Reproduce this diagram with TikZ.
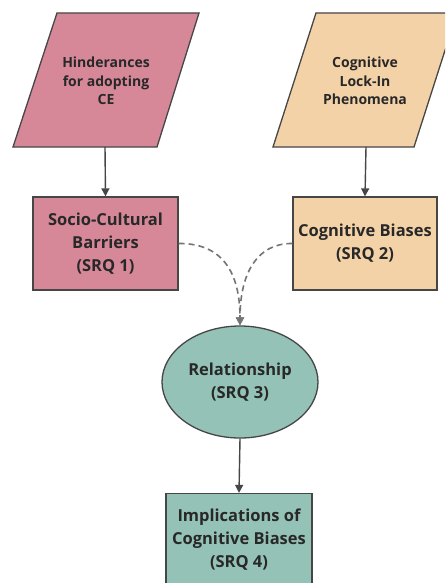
\documentclass[tikz,border=0pt]{standalone}
\usepackage{fontspec}
\setmainfont{Open Sans}
\usetikzlibrary{arrows.meta,shapes.geometric}
\definecolor{rosefill}{RGB}{214,136,152}
\definecolor{peachfill}{RGB}{244,210,168}
\definecolor{tealfill}{RGB}{148,194,182}
\definecolor{edge}{RGB}{70,70,70}
\definecolor{ink}{RGB}{40,40,40}
\tikzset{
  shapeline/.style={draw=edge, line width=1.3pt},
  bigtext/.style={text=ink, font=\bfseries\fontsize{16.5}{23}\selectfont, align=center},
  smalltext/.style={text=ink, font=\bfseries\fontsize{14}{18.5}\selectfont, align=center},
  boxnode/.style={shapeline, rectangle, minimum width=145pt, minimum height=93pt, inner sep=0pt, bigtext},
  link/.style={draw=edge, line width=1.4pt, -{Triangle[width=8pt,length=8pt]}},
  dashlink/.style={draw=edge!75, line width=1.6pt, dash pattern=on 6pt off 4pt, -{Triangle[width=8pt,length=8pt]}}
}
\begin{document}
\begin{tikzpicture}[x=1pt,y=-1pt]
  \clip (0,0) rectangle (445,583);
  \fill[white] (0,0) rectangle (445,583);

  % input parallelograms
  \draw[shapeline, fill=rosefill] (57,13) -- (199,13) -- (157,147) -- (13,147) -- cycle;
  \node[smalltext] (hind) at (106,81) {Hinderances\\for adopting\\CE};
  \coordinate (hindout) at (105,147);

  \draw[shapeline, fill=peachfill] (316,13) -- (457,13) -- (414,147) -- (273,147) -- cycle;
  \node[smalltext] (lock) at (365,81) {Cognitive\\Lock-In\\Phenomena};
  \coordinate (lockout) at (366,147);

  % research question boxes
  \node[boxnode, fill=rosefill] (scb) at (105.5,243.5) {Socio-Cultural\\Barriers\\(SRQ 1)};
  \node[boxnode, fill=peachfill, minimum width=144pt] (cb) at (365,243.5) {Cognitive Biases\\(SRQ 2)};

  \node[shapeline, ellipse, fill=tealfill, minimum width=156pt, minimum height=112pt, inner sep=0pt, bigtext] (rel) at (240,382) {Relationship\\(SRQ 3)};

  \node[boxnode, fill=tealfill, minimum width=146pt] (imp) at (239,540) {Implications of\\Cognitive Biases\\(SRQ 4)};

  % connectors
  \draw[link] (hindout) -- (scb.north);
  \draw[link] (lockout) -- (cb.north);
  \draw[dashlink] (scb.east) .. controls (222,243) and (240,272) .. (rel.north);
  \draw[dashlink] (cb.west) .. controls (258,243) and (240,272) .. (rel.north);
  \draw[link] (rel.south) -- (imp.north);
\end{tikzpicture}
\end{document}
